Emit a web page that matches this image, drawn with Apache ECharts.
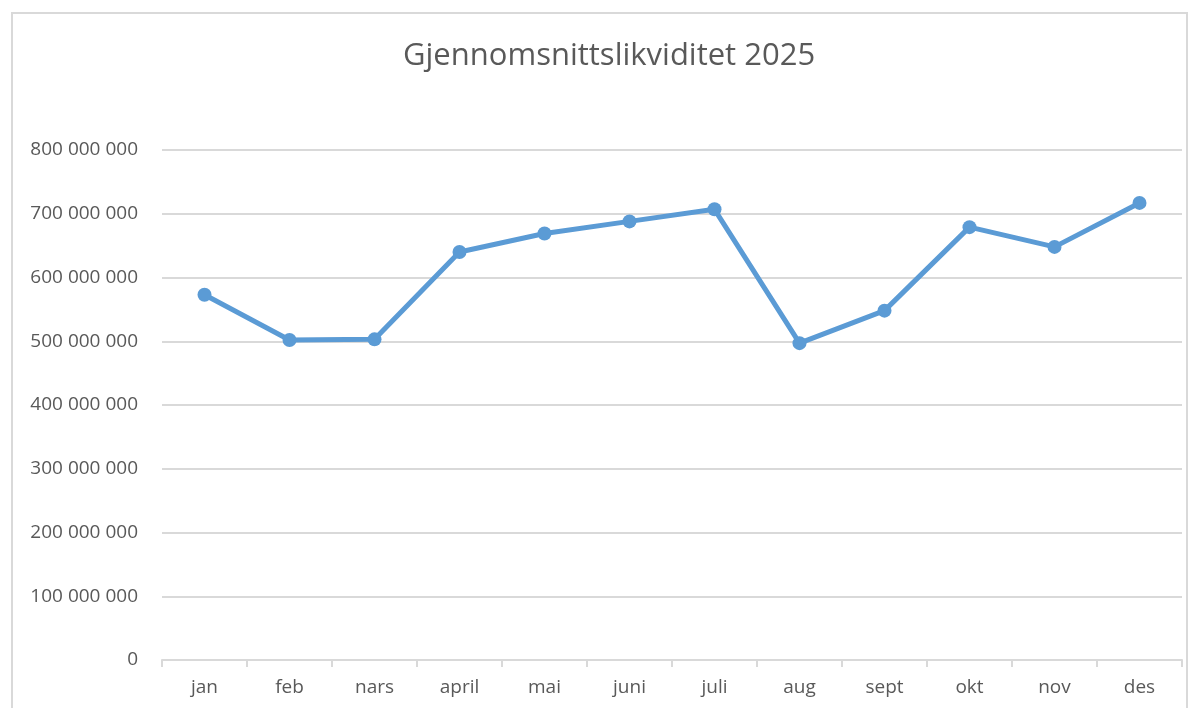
<!DOCTYPE html>
<html>
<head>
<meta charset="utf-8">
<script src="https://cdn.jsdelivr.net/npm/echarts@6/dist/echarts.min.js"></script>
<style>
  html, body { margin: 0; padding: 0; background: #ffffff; }
  #frame {
    position: absolute; left: 11px; top: 12px; width: 1177px; height: 720px;
    border: 2px solid #d9d9d9; box-sizing: border-box;
  }
  #chart { position: absolute; left: 0; top: 0; width: 1197px; height: 708px; }
</style>
</head>
<body>
<div id="frame"></div>
<div id="chart"></div>
<script>
// data
var months = ['jan', 'feb', 'nars', 'april', 'mai', 'juni', 'juli', 'aug', 'sept', 'okt', 'nov', 'des']
var liquidity = [573000000, 502000000, 503000000, 640000000, 669000000, 688000000, 707000000, 497000000, 548000000, 679000000, 648000000, 717000000]
var yMax = 800000000
var yStep = 100000000

var font = '"Open Sans", Lato, sans-serif'

function spaced(v) {
  return String(v).replace(/\B(?=(\d{3})+(?!\d))/g, ' ')
}

var myChart = echarts.init(document.getElementById('chart'))
var option = {
  animation: false,
  backgroundColor: 'transparent',
  title: {
    text: 'Gjennomsnittslikviditet 2025',
    left: 398,
    top: 36,
    textStyle: { color: '#595959', fontSize: 31, fontWeight: 'normal', fontFamily: font }
  },
  grid: { left: 162, right: 15, top: 150, bottom: 48, containLabel: false },
  xAxis: {
    type: 'category',
    data: months,
    boundaryGap: true,
    axisLine: { lineStyle: { color: '#d9d9d9', width: 2 } },
    axisTick: { show: true, length: 7, lineStyle: { color: '#d9d9d9', width: 2 } },
    axisLabel: { color: '#595959', fontSize: 19, fontFamily: font, margin: 18 }
  },
  yAxis: {
    type: 'value',
    min: 0,
    max: yMax,
    interval: yStep,
    axisLine: { show: false },
    axisTick: { show: false },
    splitLine: { lineStyle: { color: '#d9d9d9', width: 2 } },
    axisLabel: {
      color: '#595959', fontSize: 19, fontFamily: font, margin: 24,
      formatter: function (v) { return spaced(v) }
    }
  },
  series: [
    {
      type: 'line',
      data: liquidity,
      symbol: 'circle',
      symbolSize: 14,
      lineStyle: { color: '#5b9bd5', width: 5 },
      itemStyle: { color: '#5b9bd5' }
    }
  ]
}
myChart.setOption(option, true)
</script>
</body>
</html>
